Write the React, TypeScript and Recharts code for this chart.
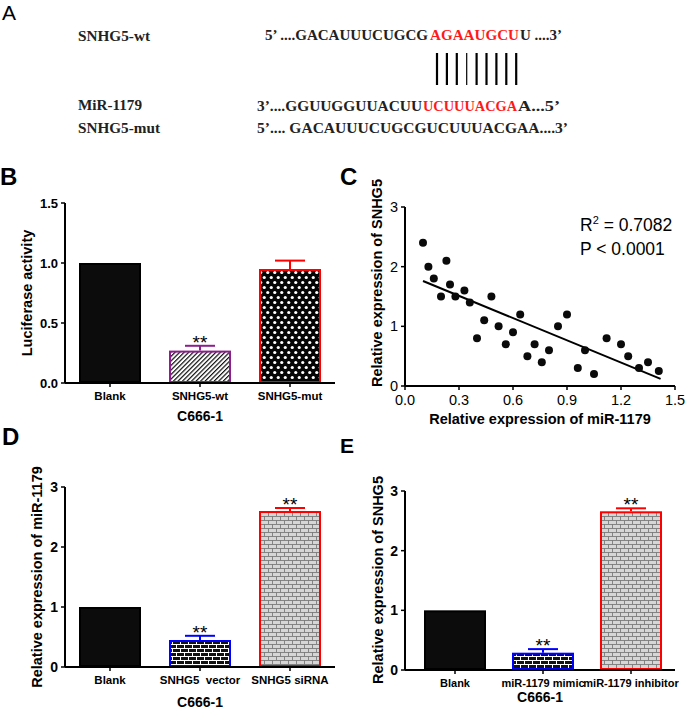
import React from 'react';
import { BarChart, Bar, XAxis, YAxis, ScatterChart, Scatter, ReferenceLine, Label } from 'recharts';

const FONT = '"Liberation Sans", Arial, sans-serif';
const SERIF = '"Liberation Serif", "Times New Roman", serif';

// ---------- Panel B ----------
const bCategories = ['Blank', 'SNHG5-wt', 'SNHG5-mut'];
const bValues = [1.0, 0.27, 0.95];
const bErrors = [0, 0.04, 0.07];
const bSig = ['', '**', ''];
const bTicks = [0, 0.5, 1.0, 1.5];

// ---------- Panel C ----------
const cX = [0.10, 0.13, 0.16, 0.20, 0.23, 0.25, 0.28, 0.33, 0.36, 0.40, 0.44, 0.48, 0.52, 0.56, 0.60, 0.64, 0.68, 0.72, 0.76, 0.80, 0.85, 0.90, 0.96, 1.00, 1.05, 1.12, 1.20, 1.24, 1.30, 1.35, 1.41];
const cY = [2.40, 2.00, 1.80, 1.50, 2.10, 1.70, 1.50, 1.60, 1.40, 0.80, 1.10, 1.50, 1.00, 0.70, 0.90, 1.20, 0.50, 0.70, 0.40, 0.60, 1.00, 1.20, 0.30, 0.60, 0.20, 0.80, 0.70, 0.50, 0.30, 0.40, 0.25];
const cFitX = [0.10, 1.42];
const cFitY = [1.76, 0.12];
const cXTicks = [0, 0.3, 0.6, 0.9, 1.2, 1.5];
const cYTicks = [0, 1, 2, 3];
const cR2 = '0.7082';
const cP = 'P < 0.0001';

// ---------- Panel D ----------
const dCategories = ['Blank', 'SNHG5\u00a0 vector', 'SNHG5 siRNA'];
const dValues = [1.0, 0.45, 2.60];
const dErrors = [0, 0.07, 0.05];
const dSig = ['', '**', '**'];

// ---------- Panel E ----------
const eCategories = ['Blank', 'miR-1179 mimic', 'miR-1179 inhibitor'];
const eValues = [1.0, 0.29, 2.66];
const eErrors = [0, 0.06, 0.05];
const eSig = ['', '**', '**'];
const deTicks = [0, 1, 2, 3];

const build = (cats: string[], vals: number[], errs: number[], sig: string[]) =>
  cats.map((name, i) => ({ name, value: vals[i], err: errs[i], sig: sig[i] }));

const bData = build(bCategories, bValues, bErrors, bSig);
const dData = build(dCategories, dValues, dErrors, dSig);
const eData = build(eCategories, eValues, eErrors, eSig);
const cData = cX.map((x, i) => ({ x, y: cY[i] }));

const stylesB = [
  { fill: '#0c0c0c', stroke: '#000' },
  { fill: 'url(#hatch)', stroke: '#8e1e8e' },
  { fill: 'url(#dots)', stroke: '#ff0000' },
];
const stylesDE = [
  { fill: '#0c0c0c', stroke: '#000' },
  { fill: 'url(#brickBlack)', stroke: '#0000ff' },
  { fill: 'url(#brickGray)', stroke: '#ff0000' },
];

const makeShape = (styles: { fill: string; stroke: string }[]) => (props: any) => {
  const { x, y, width, height, index, payload } = props;
  const st = styles[index] || styles[0];
  const sw = 2;
  const perUnit = payload.value ? height / payload.value : 0;
  const errTop = y - payload.err * perUnit;
  const cx = x + width / 2;
  return (
    <g>
      <rect x={x + sw / 2} y={y + sw / 2} width={width - sw} height={height - sw} fill={st.fill} stroke={st.stroke} strokeWidth={sw} />
      {payload.err > 0 && (
        <g>
          <line x1={cx} x2={cx} y1={y} y2={errTop} stroke={st.stroke} strokeWidth={2} />
          <line x1={cx - 15} x2={cx + 15} y1={errTop} y2={errTop} stroke={st.stroke} strokeWidth={2} />
        </g>
      )}
      {payload.sig ? (
        <text x={cx} y={errTop + 3} textAnchor="middle" fontSize={19} fontFamily={FONT} fill="#000">{payload.sig}</text>
      ) : null}
    </g>
  );
};

const yTitle = (text: string, cx: number, cy: number, fontSize = 14.5) => () => (
  <text transform={`translate(${cx},${cy}) rotate(-90)`} textAnchor="middle" dominantBaseline="central"
    fontFamily={FONT} fontWeight="bold" fontSize={fontSize} fill="#000">{text}</text>
);
const xTitle = (text: string, cx: number, y: number, fontSize = 14) => () => (
  <text x={cx} y={y} textAnchor="middle" fontFamily={FONT} fontWeight="bold" fontSize={fontSize} fill="#000">{text}</text>
);

const axisLine = { stroke: '#000', strokeWidth: 2 };
const tickLine = { stroke: '#000', strokeWidth: 1.5 };
const catTick = { fontSize: 11.5, fontWeight: 'bold', fill: '#000', fontFamily: FONT };
const catTickE = { ...catTick, fontSize: 11 };
const numTickB = { fontSize: 13, fontWeight: 'bold', fill: '#000', fontFamily: FONT };
const numTick = { fontSize: 14, fontWeight: 'bold', fill: '#000', fontFamily: FONT };

const abs = (left: number, top: number): React.CSSProperties => ({ position: 'absolute', left, top });

const lines = [0, 1, 2, 3, 4, 5, 6, 7, 8];

export default function App() {
  return (
    <div style={{ position: 'absolute', left: 0, top: 0, width: 685, height: 712, background: '#fff', overflow: 'hidden' }}>
      <svg width={685} height={712} style={{ position: 'absolute', left: 0, top: 0 }}>
        <defs>
          <pattern id="hatch" width="3.2" height="3.2" patternUnits="userSpaceOnUse" patternTransform="rotate(45)">
            <rect width="3.2" height="3.2" fill="#fff" />
            <line x1="0.6" y1="0" x2="0.6" y2="3.2" stroke="#111" strokeWidth="1.2" />
          </pattern>
          <pattern id="dots" width="7" height="10" patternUnits="userSpaceOnUse">
            <rect width="7" height="10" fill="#050505" />
            <circle cx="1.75" cy="2.5" r="1.6" fill="#fff" />
            <circle cx="5.25" cy="7.5" r="1.6" fill="#fff" />
          </pattern>
          <pattern id="brickBlack" width="8" height="8" patternUnits="userSpaceOnUse">
            <rect width="8" height="8" fill="#111" />
            <line x1="0" y1="0.5" x2="8" y2="0.5" stroke="#fff" strokeWidth="1" />
            <line x1="0" y1="4.5" x2="8" y2="4.5" stroke="#fff" strokeWidth="1" />
            <line x1="0.5" y1="0" x2="0.5" y2="4.5" stroke="#fff" strokeWidth="1" />
            <line x1="4.5" y1="4.5" x2="4.5" y2="8" stroke="#fff" strokeWidth="1" />
          </pattern>
          <pattern id="brickGray" width="8" height="8" patternUnits="userSpaceOnUse">
            <rect width="8" height="8" fill="#d6d6d6" />
            <line x1="0" y1="0.5" x2="8" y2="0.5" stroke="#7a7a7a" strokeWidth="0.9" />
            <line x1="0" y1="4.5" x2="8" y2="4.5" stroke="#7a7a7a" strokeWidth="0.9" />
            <line x1="0.5" y1="0" x2="0.5" y2="4.5" stroke="#7a7a7a" strokeWidth="0.9" />
            <line x1="4.5" y1="4.5" x2="4.5" y2="8" stroke="#7a7a7a" strokeWidth="0.9" />
          </pattern>
        </defs>
        {/* panel letters */}
        <g fontFamily={FONT} fill="#000">
          <text x={2} y={20} fontSize={21}>A</text>
          <text x={0} y={185} fontSize={24} fontWeight="bold">B</text>
          <text x={340} y={185} fontSize={24} fontWeight="bold">C</text>
          <text x={2} y={445} fontSize={24} fontWeight="bold">D</text>
          <text x={340} y={453} fontSize={21} fontWeight="bold">E</text>
        </g>
        {/* panel A */}
        <g fontFamily={SERIF} fontWeight="bold" fontSize={14.5} fill="#222">
          <text x={78} y={41} textLength={72} lengthAdjust="spacingAndGlyphs">SNHG5-wt</text>
          <text x={78} y={110} textLength={64} lengthAdjust="spacingAndGlyphs">MiR-1179</text>
          <text x={78} y={133} textLength={82} lengthAdjust="spacingAndGlyphs">SNHG5-mut</text>
          <text x={265} y={40} textLength={163} lengthAdjust="spacingAndGlyphs">5’ ....GACAUUUCUGCG</text>
          <text x={430} y={40} textLength={89} lengthAdjust="spacingAndGlyphs" fill="#ff1a1a">AGAAUGCU</text>
          <text x={520} y={40} textLength={42} lengthAdjust="spacingAndGlyphs">U ....3’</text>
          <text x={257} y={111} textLength={165} lengthAdjust="spacingAndGlyphs">3’....GGUUGGUUACUU</text>
          <text x={423} y={111} textLength={94} lengthAdjust="spacingAndGlyphs" fill="#ff1a1a">UCUUUACGA</text>
          <text x={518} y={111} textLength={42} lengthAdjust="spacingAndGlyphs">A...5’</text>
          <text x={257} y={133} textLength={311} lengthAdjust="spacingAndGlyphs">5’.... GACAUUUCUGCGUCUUUACGAA....3’</text>
        </g>
        <g stroke="#000">
          {lines.map((i) => (
            <line key={i} x1={437 + i * 9.9} x2={437 + i * 9.9} y1={53} y2={85} strokeWidth={i === 3 ? 1.2 : 2.2} />
          ))}
        </g>
        {/* panel C annotation */}
        <g fontFamily={FONT} fontSize={17.5} fill="#000">
          <text x={580} y={231}>R<tspan dy={-7} fontSize={11}>2</tspan><tspan dy={7}> = {cR2}</tspan></text>
          <text x={580} y={255}>{cP}</text>
        </g>
      </svg>

      {/* Panel B */}
      <div style={abs(0, 160)}>
        <BarChart width={340} height={270} data={bData} margin={{ top: 43, right: 5, bottom: 0, left: 0 }}>
          <XAxis dataKey="name" interval={0} height={47} tick={catTick} tickSize={4} tickMargin={5} axisLine={axisLine} tickLine={tickLine}>
            <Label content={xTitle('C666-1', 200, 261)} />
          </XAxis>
          <YAxis type="number" domain={[0, 1.5]} ticks={bTicks} tickFormatter={(v: number) => v.toFixed(1)} width={65}
            tick={numTickB} tickSize={4} tickMargin={3} axisLine={axisLine} tickLine={tickLine}>
            <Label content={yTitle('Luciferase activity', 27, 133)} />
          </YAxis>
          <Bar dataKey="value" barSize={62} isAnimationActive={false} shape={makeShape(stylesB)} />
        </BarChart>
      </div>

      {/* Panel C */}
      <div style={abs(340, 160)}>
        <ScatterChart width={345} height={270} margin={{ top: 47, right: 10, bottom: 0, left: 0 }}>
          <XAxis dataKey="x" type="number" domain={[0, 1.5]} ticks={cXTicks} tickFormatter={(v: number) => v.toFixed(1)} height={44}
            tick={{ ...numTick, fontSize: 14.5, fontWeight: 'normal' }} tickSize={4} tickMargin={5} axisLine={axisLine} tickLine={tickLine}>
            <Label content={xTitle('Relative expression of miR-1179', 200, 264, 14.5)} />
          </XAxis>
          <YAxis dataKey="y" type="number" domain={[0, 3]} ticks={cYTicks} width={65}
            tick={{ ...numTick, fontSize: 14.5, fontWeight: 'normal' }} tickSize={4} tickMargin={3} axisLine={axisLine} tickLine={tickLine}>
            <Label content={yTitle('Relative expression of SNHG5', 37, 123)} />
          </YAxis>
          <ReferenceLine segment={[{ x: cFitX[0], y: cFitY[0] }, { x: cFitX[1], y: cFitY[1] }]} stroke="#000" strokeWidth={2} />
          <Scatter data={cData} isAnimationActive={false}
            shape={(p: any) => <circle cx={p.cx} cy={p.cy} r={4} fill="#0a0a0a" />} />
        </ScatterChart>
      </div>

      {/* Panel D */}
      <div style={abs(0, 420)}>
        <BarChart width={340} height={292} data={dData} margin={{ top: 67, right: 5, bottom: 0, left: 0 }}>
          <XAxis dataKey="name" interval={0} height={45} tick={catTick} tickSize={4} tickMargin={5} axisLine={axisLine} tickLine={tickLine}>
            <Label content={xTitle('C666-1', 200, 287)} />
          </XAxis>
          <YAxis type="number" domain={[0, 3]} ticks={deTicks} width={65}
            tick={numTick} tickSize={4} tickMargin={3} axisLine={axisLine} tickLine={tickLine}>
            <Label content={yTitle('Relative expression of miR-1179', 37, 157)} />
          </YAxis>
          <Bar dataKey="value" barSize={62} isAnimationActive={false} shape={makeShape(stylesDE)} />
        </BarChart>
      </div>

      {/* Panel E */}
      <div style={abs(340, 420)}>
        <BarChart width={345} height={292} data={eData} margin={{ top: 71, right: 10, bottom: 0, left: 0 }}>
          <XAxis dataKey="name" interval={0} height={42} padding={{ left: 6, right: 0 }} tick={catTickE} tickSize={4} tickMargin={5} axisLine={axisLine} tickLine={tickLine}>
            <Label content={xTitle('C666-1', 200, 282)} />
          </XAxis>
          <YAxis type="number" domain={[0, 3]} ticks={deTicks} width={65}
            tick={numTick} tickSize={4} tickMargin={3} axisLine={axisLine} tickLine={tickLine}>
            <Label content={yTitle('Relative expression of SNHG5', 38, 160)} />
          </YAxis>
          <Bar dataKey="value" barSize={62} isAnimationActive={false} shape={makeShape(stylesDE)} />
        </BarChart>
      </div>
    </div>
  );
}
